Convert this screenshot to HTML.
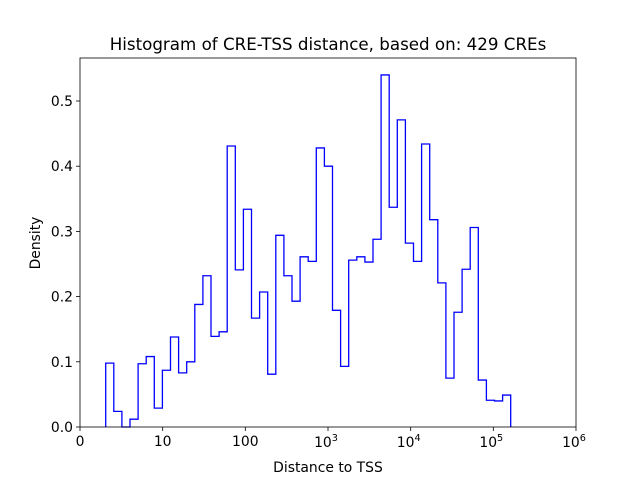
<!DOCTYPE html>
<html><head><style>
body{margin:0;background:#fff;}
svg{display:block;font-family:"DejaVu Sans","Liberation Sans",sans-serif;}
</style></head><body>
<svg width="640" height="480" viewBox="0 0 640 480" xmlns="http://www.w3.org/2000/svg">
<rect width="640" height="480" fill="#fff"/>
<text x="328" y="50" font-size="16.7" text-anchor="middle">Histogram of CRE-TSS distance, based on: 429 CREs</text>
<g transform="translate(105.7,427) scale(8.1,-0.652)">
<path vector-effect="non-scaling-stroke" fill="none" stroke="#0000ff" stroke-width="1.3" d="M0 0 V98 H1 V24 H2 V0 H3 V12 H4 V97 H5 V108 H6 V29 H7 V87 H8 V138 H9 V83 H10 V100 H11 V188 H12 V232 H13 V139 H14 V146 H15 V431 H16 V241 H17 V334 H18 V167 H19 V207 H20 V81 H21 V294 H22 V232 H23 V193 H24 V261 H25 V254 H26 V428 H27 V400 H28 V179 H29 V93 H30 V256 H31 V261 H32 V253 H33 V288 H34 V540 H35 V337 H36 V471 H37 V282 H38 V254 H39 V434 H40 V318 H41 V221 H42 V75 H43 V176 H44 V242 H45 V306 H46 V72 H47 V41 H48 V40 H49 V49 H50 V0"/>
</g>
<rect x="80" y="58" width="496" height="369" fill="none" stroke="#000" stroke-width="0.8"/>
<g stroke="#000" stroke-width="0.8">
<line x1="80" y1="427" x2="80" y2="431"/><line x1="162.7" y1="427" x2="162.7" y2="431"/><line x1="245.3" y1="427" x2="245.3" y2="431"/><line x1="328" y1="427" x2="328" y2="431"/><line x1="410.7" y1="427" x2="410.7" y2="431"/><line x1="493.3" y1="427" x2="493.3" y2="431"/><line x1="576" y1="427" x2="576" y2="431"/>
<line x1="76" y1="427" x2="80" y2="427"/><line x1="76" y1="361.8" x2="80" y2="361.8"/><line x1="76" y1="296.6" x2="80" y2="296.6"/><line x1="76" y1="231.4" x2="80" y2="231.4"/><line x1="76" y1="166.2" x2="80" y2="166.2"/><line x1="76" y1="101" x2="80" y2="101"/>
</g>
<g font-size="13.9" text-anchor="middle">
<text x="80" y="446">0</text><text x="162.7" y="446">10</text><text x="245.3" y="446">100</text>
<text x="326" y="447">10<tspan font-size="9.7" dy="-6">3</tspan></text>
<text x="408.7" y="447">10<tspan font-size="9.7" dy="-6">4</tspan></text>
<text x="491.3" y="447">10<tspan font-size="9.7" dy="-6">5</tspan></text>
<text x="574" y="447">10<tspan font-size="9.7" dy="-6">6</tspan></text>
</g>
<g font-size="13.9" text-anchor="end">
<text x="73" y="432">0.0</text><text x="73" y="366.8">0.1</text><text x="73" y="301.6">0.2</text><text x="73" y="236.4">0.3</text><text x="73" y="171.2">0.4</text><text x="73" y="106">0.5</text>
</g>
<text x="328" y="472" font-size="13.9" text-anchor="middle">Distance to TSS</text>
<text transform="translate(40,243) rotate(-90)" font-size="13.9" text-anchor="middle">Density</text>
</svg>
</body></html>
